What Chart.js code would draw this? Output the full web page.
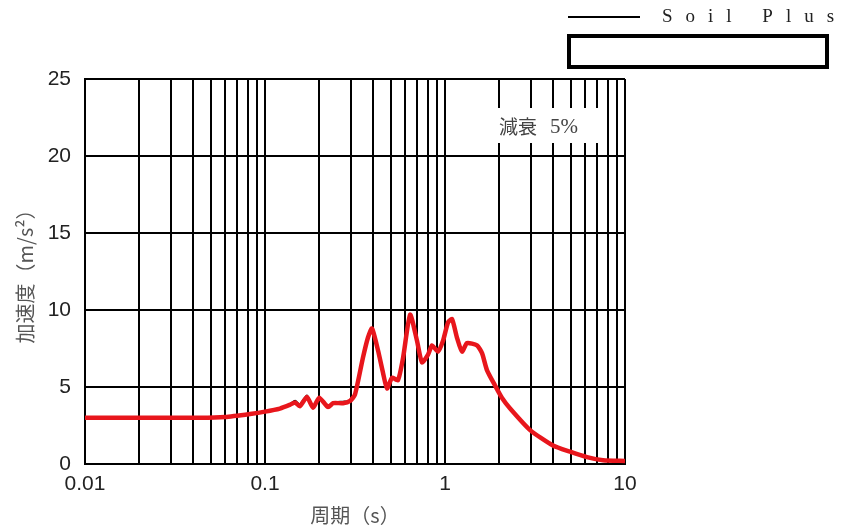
<!DOCTYPE html>
<html>
<head>
<meta charset="utf-8">
<script src="https://cdn.jsdelivr.net/npm/chart.js@4/dist/chart.umd.min.js"></script>
<style>
  body { margin: 0; background: #fff; }
  #wrap { width: 846px; height: 531px; }
</style>
</head>
<body>
<div id="wrap"><canvas id="spec"></canvas></div>
<script>
// 周期 (s)
const periods = [0.01, 0.0436, 0.060, 0.0826, 0.1, 0.121, 0.138, 0.147, 0.156, 0.171, 0.185, 0.2, 0.224, 0.239, 0.271, 0.297,
  0.316, 0.350, 0.373, 0.393, 0.424, 0.453, 0.476, 0.508, 0.548, 0.585, 0.640, 0.699, 0.745, 0.805, 0.847, 0.914, 0.975,
  1.04, 1.094, 1.166, 1.243, 1.325, 1.506, 1.606, 1.71, 1.896, 2.07, 2.30, 2.97, 3.98, 4.95, 6.15, 7.55, 10];

// 加速度 (m/s2) - 赤線
const accelRed = [3.0, 3.0, 3.05, 3.25, 3.4, 3.6, 3.85, 4.0, 3.75, 4.35, 3.65, 4.3, 3.7, 3.95, 3.95, 4.1,
  4.5, 6.9, 8.2, 8.8, 7.4, 5.9, 4.9, 5.6, 5.45, 6.9, 9.7, 8.0, 6.6, 7.1, 7.7, 7.3, 8.0,
  9.2, 9.4, 8.2, 7.3, 7.85, 7.7, 7.2, 6.1, 5.1, 4.3, 3.6, 2.2, 1.2, 0.8, 0.45, 0.25, 0.2];

// 黒線 (Soil Plus) - ほぼ赤線の下に隠れている
const accelBlack = [3.0, 3.0, 3.05, 3.25, 3.4, 3.6, 3.9, 4.1, 3.85, 4.45, 3.7, 4.3, 3.75, 4.0, 4.05, 4.1,
  4.5, 6.9, 8.2, 8.8, 7.4, 5.9, 4.9, 5.6, 5.45, 6.9, 9.7, 8.0, 6.6, 7.1, 7.7, 7.3, 8.0,
  9.2, 9.4, 8.2, 7.3, 7.85, 7.7, 7.2, 6.1, 5.1, 4.3, 3.6, 2.2, 1.2, 0.8, 0.45, 0.25, 0.2];

const yTicks = [0, 5, 10, 15, 20, 25];
const xLabels = [0.01, 0.1, 1, 10];

function toPoints(xs, ys) {
  return xs.map((x, i) => ({ x: x, y: ys[i] }));
}

// 凡例と「減衰5%」の注記
const extras = {
  id: 'extras',
  beforeDatasetsDraw(chart) {
    const ctx = chart.ctx;
    ctx.save();
    ctx.fillStyle = '#fff';
    ctx.fillRect(490, 108, 112, 35);
    ctx.fillStyle = '#444';
    ctx.textBaseline = 'middle';
    ctx.font = '19px "Noto Sans CJK JP"';
    ctx.fillText('減衰', 499, 127);
    ctx.font = '21px "Liberation Serif"';
    ctx.fillText('5%', 550, 127);
    ctx.restore();
  },
  afterDraw(chart) {
    const ctx = chart.ctx;
    ctx.save();
    ctx.strokeStyle = '#000';
    ctx.lineWidth = 2;
    ctx.beginPath();
    ctx.moveTo(568, 17);
    ctx.lineTo(640, 17);
    ctx.stroke();
    ctx.fillStyle = '#222';
    ctx.font = '19px "Liberation Serif"';
    ctx.textBaseline = 'middle';
    const txt = 'Soil Plus';
    let x = 662;
    for (const ch of txt) {
      ctx.fillText(ch, x, 17);
      x += ctx.measureText(ch).width + 13;
    }
    ctx.lineWidth = 4;
    ctx.strokeRect(569, 36, 258, 31);
    ctx.restore();
  }
};

new Chart(document.getElementById('spec'), {
  type: 'scatter',
  data: {
    datasets: [
      {
        label: '赤',
        data: toPoints(periods, accelRed),
        showLine: true,
        borderColor: '#e8161c',
        borderWidth: 4.5,
        pointRadius: 0,
        tension: 0.2
      },
      {
        label: 'Soil Plus',
        data: toPoints(periods, accelBlack),
        showLine: true,
        borderColor: '#111',
        borderWidth: 2,
        pointRadius: 0,
        tension: 0.2
      }
    ]
  },
  options: {
    responsive: true,
    maintainAspectRatio: false,
    animation: false,
    layout: { padding: { top: 79, right: 221, left: 0, bottom: 0 } },
    plugins: { legend: { display: false }, tooltip: { enabled: false } },
    scales: {
      x: {
        type: 'logarithmic',
        min: 0.01,
        max: 10,
        afterBuildTicks(scale) {
          const t = [];
          for (let d = 0.01; d < 10; d *= 10) {
            for (let m = 1; m <= 9; m++) t.push({ value: +(m * d).toPrecision(3) });
          }
          t.push({ value: 10 });
          scale.ticks = t;
        },
        afterFit(scale) { scale.height = 67; },
        grid: { color: '#000', lineWidth: 2, drawTicks: false },
        border: { color: '#000', width: 2 },
        ticks: {
          autoSkip: false,
          maxRotation: 0,
          padding: 8,
          color: '#222',
          font: { family: '"Liberation Sans", Arial', size: 21 },
          callback(v) { return xLabels.includes(v) ? String(v) : ''; }
        },
        title: {
          display: true,
          text: '周期（s）',
          color: '#555',
          font: { family: '"Noto Sans CJK JP"', size: 20 },
          padding: { bottom: 4 }
        }
      },
      y: {
        min: 0,
        max: 25,
        afterBuildTicks(scale) { scale.ticks = yTicks.map(v => ({ value: v })); },
        afterFit(scale) { scale.width = 85; },
        grid: { color: '#000', lineWidth: 2, drawTicks: false },
        border: { color: '#000', width: 2 },
        ticks: {
          padding: 14,
          color: '#222',
          font: { family: '"Liberation Sans", Arial', size: 21 }
        },
        title: {
          display: true,
          text: '加速度（m/s²）',
          color: '#555',
          font: { family: '"Noto Sans CJK JP"', size: 20 },
          padding: { top: 13 }
        }
      }
    }
  },
  plugins: [extras]
});
</script>
</body>
</html>
